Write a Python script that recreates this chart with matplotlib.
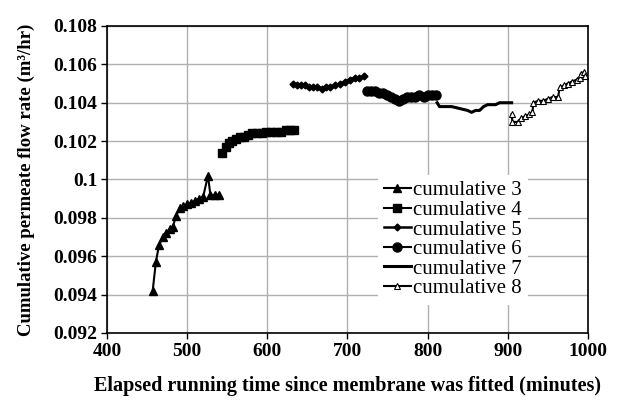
import matplotlib
matplotlib.use("Agg")
from matplotlib import pyplot as plt

# cumulative permeate flow, one list pair per run
t3 = [457, 461, 465, 470, 474, 478, 482, 486, 491, 495, 500, 505, 510, 515, 520, 526, 529, 535, 540]
q3 = [0.0942, 0.0957, 0.0966, 0.0970, 0.0972, 0.0974, 0.0975, 0.0981, 0.0985, 0.0986, 0.0987,
      0.0988, 0.0989, 0.0990, 0.0991, 0.1002, 0.0992, 0.0992, 0.0992]

t4 = [544, 548, 552, 556, 561, 566, 571, 576, 581, 587, 593, 599, 605, 611, 617, 623, 629, 633]
q4 = [0.1014, 0.1017, 0.1019, 0.1020, 0.1021, 0.1022, 0.1022, 0.1023, 0.1024, 0.1024,
      0.1024, 0.1025, 0.1025, 0.1025, 0.1025, 0.1026, 0.1026, 0.1026]

t5 = [632, 637, 642, 647, 652, 657, 662, 668, 673, 678, 684, 691, 697, 703, 709, 715, 721]
q5 = [0.1050, 0.1049, 0.1049, 0.1049, 0.1048, 0.1048, 0.1048, 0.1047, 0.1048, 0.1048,
      0.1049, 0.1050, 0.1051, 0.1052, 0.1053, 0.1053, 0.1054]

t6 = [725, 730, 735, 740, 745, 750, 755, 760, 765, 770, 775, 780, 785, 790, 795, 800, 805, 810]
q6 = [0.1046, 0.1046, 0.1046, 0.1045, 0.1045, 0.1044, 0.1043, 0.1042, 0.1041, 0.1042,
      0.1043, 0.1043, 0.1043, 0.1044, 0.1043, 0.1044, 0.1044, 0.1044]

t7 = [812, 815, 820, 830, 840, 850, 855, 860, 865, 870, 875, 880, 885, 890, 895, 900, 905]
q7 = [0.1040, 0.1038, 0.1038, 0.1038, 0.1037, 0.1036, 0.1035, 0.1036, 0.1036, 0.1038,
      0.1039, 0.1039, 0.1039, 0.1040, 0.1040, 0.1040, 0.1040]

t8 = [905, 906, 913, 917, 922, 927, 931, 932, 938, 944, 950, 956, 963, 965, 970, 975, 980,
      986, 990, 991, 995, 997]
q8 = [0.1034, 0.1030, 0.1030, 0.1032, 0.1033, 0.1034, 0.1035, 0.1040, 0.1041, 0.1041,
      0.1042, 0.1043, 0.1043, 0.1048, 0.1049, 0.1050, 0.1051, 0.1052, 0.1053, 0.1055,
      0.1056, 0.1054]

yticks = [0.092, 0.094, 0.096, 0.098, 0.1, 0.102, 0.104, 0.106, 0.108]
ytick_labels = ['0.092', '0.094', '0.096', '0.098', '0.1', '0.102', '0.104', '0.106', '0.108']
xticks = [400, 500, 600, 700, 800, 900, 1000]

plt.rcParams['font.family'] = ['Liberation Serif', 'DejaVu Serif']

fig = plt.figure(figsize=(6.2, 4.03), dpi=100)
ax = fig.add_axes([0.1726, 0.1737, 0.7754, 0.7618])

k = 'black'
ax.plot(t3, q3, color=k, lw=1.5, marker='^', ms=5.5, label='cumulative 3')
ax.plot(t4, q4, color=k, lw=1.5, marker='s', ms=5.5, label='cumulative 4')
ax.plot(t5, q5, color=k, lw=1.8, marker='D', ms=3.5, label='cumulative 5')
ax.plot(t6, q6, color=k, lw=1.5, marker='o', ms=6.5, label='cumulative 6')
ax.plot(t7, q7, color=k, lw=2.2, label='cumulative 7')
ax.plot(t8, q8, color=k, lw=1.5, marker='^', ms=4, mfc='white', mew=0.8, label='cumulative 8')

ax.set_xlim(400, 1000)
ax.set_ylim(0.092, 0.108)
ax.set_xticks(xticks)
ax.set_yticks(yticks)
ax.set_yticklabels(ytick_labels)
ax.grid(True, color='#b0b0b0', lw=1)
ax.set_axisbelow(True)
for s in ax.spines.values():
    s.set_color('black')
    s.set_linewidth(1.2)
ax.tick_params(length=4, width=1, labelsize=14, pad=3)
for lab in ax.get_xticklabels() + ax.get_yticklabels():
    lab.set_fontweight('bold')

ax.set_xlabel('Elapsed running time since membrane was fitted (minutes)',
              fontsize=14.5, fontweight='bold', labelpad=12)
ax.set_ylabel('Cumulative permeate flow rate (m³/hr)',
              fontsize=13.5, fontweight='bold', labelpad=13)

leg = ax.legend(loc='upper left', bbox_to_anchor=(0.541, 0.55), fontsize=15,
                frameon=True, fancybox=False, edgecolor='none', facecolor='white',
                framealpha=1, handlelength=1.3, handletextpad=0.1,
                labelspacing=0.0, borderpad=0.3)

fig.savefig('out.png', dpi=100)
